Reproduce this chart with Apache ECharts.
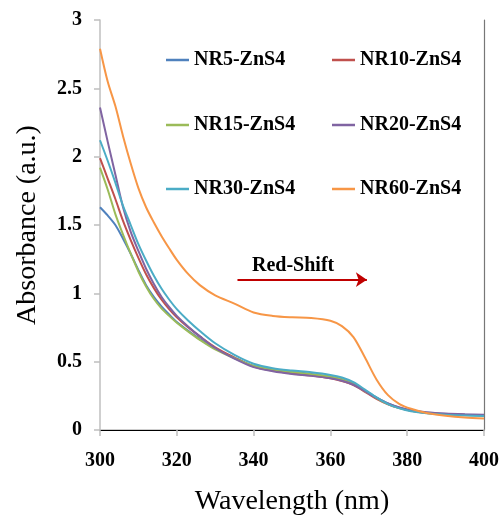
<!DOCTYPE html>
<html>
<head>
<meta charset="utf-8">
<script src="https://cdn.jsdelivr.net/npm/echarts@6/dist/echarts.min.js"></script>
<style>
    html, body { margin: 0; padding: 0; background: #fff; }
    #chart { width: 503px; height: 521px; }
</style>
</head>
<body>
<div id="chart"></div>
<script>
// wavelength grid (nm) shared by all curves
const wavelengths = [300, 302, 304, 306, 308, 310, 312, 314, 316, 318, 320, 323, 326, 330, 335, 340,
    345, 350, 355, 360, 363, 366, 369, 372, 375, 378, 381, 385, 390, 395, 400];

const series_names = ["NR5-ZnS4", "NR10-ZnS4", "NR15-ZnS4", "NR20-ZnS4", "NR30-ZnS4", "NR60-ZnS4"];

const nr5 = [1.63, 1.57, 1.50, 1.40, 1.29, 1.17, 1.06, 0.975, 0.905, 0.845, 0.79, 0.725, 0.665, 0.595, 0.53, 0.468,
    0.442, 0.425, 0.41, 0.39, 0.372, 0.34, 0.288, 0.238, 0.194, 0.164, 0.142, 0.127, 0.117, 0.112, 0.108];
const nr10 = [1.99, 1.84, 1.69, 1.53, 1.39, 1.26, 1.14, 1.04, 0.955, 0.885, 0.825, 0.75, 0.685, 0.605, 0.53, 0.465,
    0.435, 0.413, 0.398, 0.378, 0.358, 0.328, 0.279, 0.228, 0.188, 0.16, 0.14, 0.125, 0.116, 0.111, 0.108];
const nr15 = [1.92, 1.76, 1.58, 1.43, 1.29, 1.16, 1.05, 0.96, 0.89, 0.835, 0.785, 0.72, 0.66, 0.59, 0.525, 0.47,
    0.443, 0.424, 0.408, 0.39, 0.37, 0.336, 0.285, 0.234, 0.19, 0.16, 0.14, 0.125, 0.115, 0.11, 0.107];
const nr20 = [2.36, 2.11, 1.87, 1.63, 1.45, 1.31, 1.18, 1.07, 0.975, 0.90, 0.835, 0.755, 0.685, 0.60, 0.522, 0.46,
    0.43, 0.41, 0.396, 0.378, 0.36, 0.331, 0.284, 0.235, 0.195, 0.165, 0.145, 0.13, 0.12, 0.115, 0.112];
const nr30 = [2.12, 1.97, 1.81, 1.64, 1.50, 1.36, 1.24, 1.13, 1.035, 0.955, 0.885, 0.80, 0.725, 0.635, 0.55, 0.485,
    0.452, 0.435, 0.422, 0.403, 0.384, 0.35, 0.295, 0.238, 0.19, 0.158, 0.137, 0.122, 0.112, 0.106, 0.103];
const nr60 = [2.79, 2.55, 2.37, 2.15, 1.95, 1.77, 1.63, 1.52, 1.42, 1.33, 1.245, 1.14, 1.06, 0.985, 0.925, 0.86,
    0.835, 0.825, 0.82, 0.80, 0.76, 0.68, 0.53, 0.37, 0.255, 0.19, 0.155, 0.125, 0.105, 0.092, 0.085];

const x_ticks = [300, 320, 340, 360, 380, 400];
const y_ticks = [0, 0.5, 1, 1.5, 2, 2.5, 3];

// red-shift arrow, in data units
const arrow_from = [335.8, 1.1];
const arrow_to = [369.5, 1.1];

const COLORS = ["#4F81BD", "#C0504D", "#9BBB59", "#8064A2", "#4BACC6", "#F79646"];
const FONT = "Liberation Serif";

const values = [nr5, nr10, nr15, nr20, nr30, nr60];

const label_font = { fontFamily: FONT, fontWeight: "bold", fontSize: 20, color: "#000" };

// one legend per item so the two columns line up like the original
const legend_cols = [166, 332];
const legend_rows = [50, 115, 179];

const legends = series_names.map((name, i) => ({
    data: [name],
    left: legend_cols[i % 2],
    top: legend_rows[Math.floor(i / 2)],
    padding: 0,
    icon: "rect",
    itemWidth: 23,
    itemHeight: 2.5,
    selectedMode: false,
    textStyle: { ...label_font, lineHeight: 20 },
}));

const series = series_names.map((name, i) => {
    const s = {
        name,
        type: "line",
        data: wavelengths.map((w, k) => [w, values[i][k]]),
        smooth: 0.3,
        showSymbol: false,
        symbol: "none",
        color: COLORS[i],
        lineStyle: { width: 2, color: COLORS[i] },
        emphasis: { disabled: true },
        z: 2 + i,
    };
    if (name === "NR60-ZnS4") {
        s.markLine = {
            silent: true,
            symbol: ["none", "arrow"],
            symbolSize: 11,
            lineStyle: { color: "#C00000", width: 2, type: "solid" },
            label: { show: false },
            emphasis: { disabled: true },
            data: [[{ coord: arrow_from }, { coord: arrow_to }]],
        };
    }
    return s;
});

const chart = echarts.init(document.getElementById("chart"), null, { renderer: "canvas" });

chart.setOption({
    backgroundColor: "#fff",
    animation: false,
    textStyle: { fontFamily: FONT },
    grid: { left: 100, right: 19, top: 20, bottom: 86 },
    legend: legends,
    xAxis: [
        {
            type: "value",
            min: x_ticks[0],
            max: x_ticks[x_ticks.length - 1],
            interval: 20,
            name: "Wavelength (nm)",
            nameLocation: "middle",
            nameGap: 58,
            nameTextStyle: { fontFamily: FONT, fontSize: 28, color: "#000" },
            axisLine: { lineStyle: { color: "#BFBFBF", width: 1.5 } },
            axisTick: { show: true, length: 6, lineStyle: { color: "#BFBFBF", width: 1.5 } },
            axisLabel: { ...label_font, margin: 21 },
            splitLine: { show: false },
        },
        {
            type: "value",
            position: "top",
            min: x_ticks[0],
            max: x_ticks[x_ticks.length - 1],
            axisLine: { show: true, lineStyle: { color: "#000", width: 1.2 } },
            axisTick: { show: false },
            axisLabel: { show: false },
            splitLine: { show: false },
        },
    ],
    yAxis: [
        {
            type: "value",
            min: y_ticks[0],
            max: y_ticks[y_ticks.length - 1],
            interval: 0.5,
            name: "Absorbance (a.u.)",
            nameLocation: "middle",
            nameGap: 58,
            nameTextStyle: { fontFamily: FONT, fontSize: 28, color: "#000" },
            axisLine: { show: true, lineStyle: { color: "#BFBFBF", width: 1.5 } },
            axisTick: { show: true, length: 6, lineStyle: { color: "#BFBFBF", width: 1.5 } },
            axisLabel: { ...label_font, margin: 18 },
            splitLine: { show: false },
        },
        {
            type: "value",
            position: "right",
            min: y_ticks[0],
            max: y_ticks[y_ticks.length - 1],
            axisLine: { show: true, lineStyle: { color: "#777", width: 1.2 } },
            axisTick: { show: false },
            axisLabel: { show: false },
            splitLine: { show: false },
        },
    ],
    graphic: [
        {
            type: "text",
            left: 252,
            top: 256,
            silent: true,
            style: { text: "Red-Shift", fill: "#000", font: `bold 20px '${FONT}'` },
        },
    ],
    series,
});
</script>
</body>
</html>
